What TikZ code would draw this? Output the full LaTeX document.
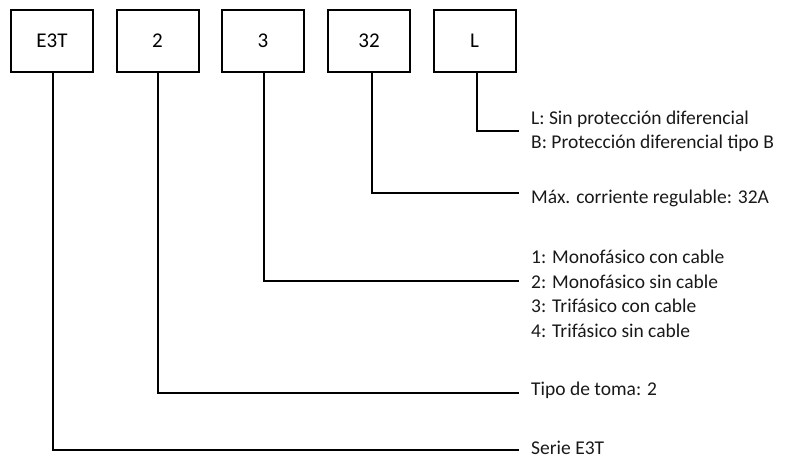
\documentclass[tikz,border=0pt]{standalone}
\usepackage{fontspec}
\setmainfont{Carlito}
\begin{document}
\begin{tikzpicture}[x=1pt,y=-1pt,
  codebox/.style={draw=black,line width=2pt,minimum width=82pt,minimum height=62pt,inner sep=0pt,font=\fontsize{21}{25}\selectfont},
  desc/.style={anchor=base west,inner sep=0pt,font=\fontsize{19.5}{23}\selectfont,text=black!90},
  conn/.style={line width=2pt}]
\useasboundingbox (0,0) rectangle (792,459);
\node[codebox] (b1) at (52,40.5) {E3T};
\node[codebox] (b2) at (157.5,40.5) {2};
\node[codebox] (b3) at (263,40.5) {3};
\node[codebox] (b4) at (369,40.5) {32};
\node[codebox] (b5) at (474.5,40.5) {L};
\coordinate (e5) at (519,131);
\coordinate (e4) at (519,193);
\coordinate (e3) at (519,281);
\coordinate (e2) at (519,393);
\coordinate (e1) at (519,450);
\draw[conn] ([xshift=2.5pt]b5.south) |- (e5);
\draw[conn] ([xshift=3pt]b4.south) |- (e4);
\draw[conn] ([xshift=1pt]b3.south) |- (e3);
\draw[conn] ([xshift=0.5pt]b2.south) |- (e2);
\draw[conn] ([xshift=1pt]b1.south) |- (e1);
\node[desc] (t5a) at (531,124) {L: Sin protección diferencial};
\node[desc] (t5b) at (531,148.5) {B: Protección diferencial tipo B};
\node[desc] (t4) at (531,203) {Máx. corriente regulable: 32A};
\node[desc] (t3a) at (531,263.5) {1: Monofásico con cable};
\node[desc] (t3b) at (531,288) {2: Monofásico sin cable};
\node[desc] (t3c) at (531,312) {3: Trifásico con cable};
\node[desc] (t3d) at (531,337) {4: Trifásico sin cable};
\node[desc] (t2) at (531,395) {Tipo de toma: 2};
\node[desc] (t1) at (531,454) {Serie E3T};
\end{tikzpicture}
\end{document}
